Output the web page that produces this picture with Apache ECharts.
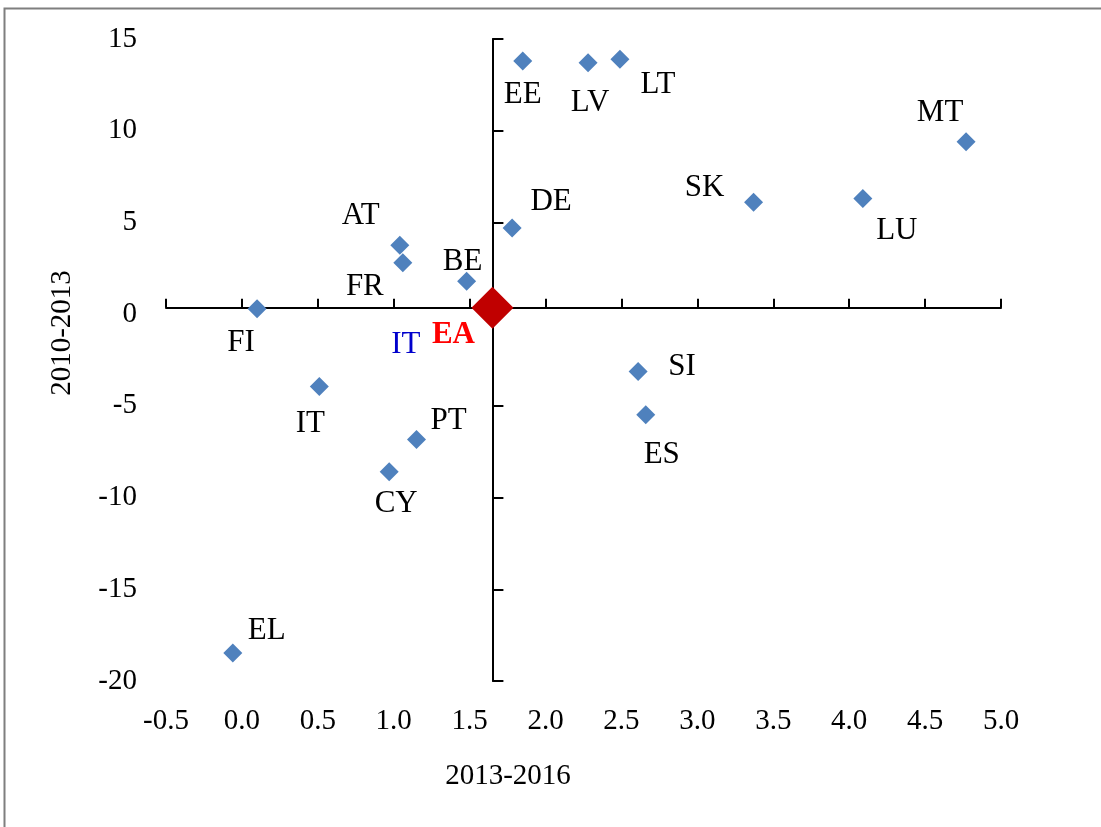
<!DOCTYPE html>
<html>
<head>
<meta charset="utf-8">
<script src="https://cdn.jsdelivr.net/npm/echarts@6/dist/echarts.min.js"></script>
<style>
  html, body { margin: 0; padding: 0; background: #fff; }
  #main { width: 1101px; height: 827px; }
</style>
</head>
<body>
<div id="main"></div>
<script>
const countries = ['EE', 'LV', 'LT', 'MT', 'SK', 'LU', 'DE', 'AT', 'FR', 'BE', 'FI', 'IT', 'PT', 'CY', 'SI', 'ES', 'EL'];
const growth1316 = [1.85, 2.28, 2.49, 4.77, 3.37, 4.09, 1.78, 1.04, 1.06, 1.48, 0.10, 0.51, 1.15, 0.97, 2.61, 2.66, -0.06];
const growth1013 = [13.8, 13.7, 13.9, 9.4, 6.1, 6.3, 4.7, 3.75, 2.8, 1.8, 0.3, -3.95, -6.84, -8.59, -3.13, -5.48, -18.48];
const euroArea = [1.65, 0.35];
const italyNote = [1.08, -1.7];

const xTicks = ['-0.5', '0.0', '0.5', '1.0', '1.5', '2.0', '2.5', '3.0', '3.5', '4.0', '4.5', '5.0'];
const yTicks = ['-20', '-15', '-10', '-5', '0', '5', '10', '15'];

// label offsets from each marker, in pixels
const labelOffsets = [[0, 34], [2, 40], [38, 26], [-26, -29], [-49, -14], [34, 32], [39, -26], [-39, -29],
  [-38, 24], [-4, -19], [-16, 34], [-9, 37], [32, -19], [7, 32], [44, -5], [16, 40], [34, -22]];

const xMin = +xTicks[0], xMax = +xTicks[xTicks.length - 1];
const yMin = +yTicks[0], yMax = +yTicks[yTicks.length - 1];
const font = "'Liberation Serif', 'Times New Roman', serif";
const lineStyle = { color: '#000', width: 2 };

const chart = echarts.init(document.getElementById('main'));

const option = {
  animation: false,
  textStyle: { fontFamily: font },
  grid: { left: 166, right: 100, top: 39, bottom: 146 },
  xAxis: [
    { // labels along the bottom
      type: 'value', min: xMin, max: xMax, interval: 0.5, position: 'bottom',
      axisLine: { show: false, onZero: false }, axisTick: { show: false }, splitLine: { show: false },
      axisLabel: { margin: 26, fontSize: 29, color: '#000', fontFamily: font, formatter: v => v.toFixed(1) }
    },
    { // hidden, shifted so its zero sits on the EA value
      type: 'value', show: false, min: xMin - euroArea[0], max: xMax - euroArea[0]
    },
    { // horizontal line through EA
      type: 'value', min: xMin, max: xMax, interval: 0.5, position: 'bottom',
      axisLine: { show: true, onZero: true, onZeroAxisIndex: 1, lineStyle: lineStyle },
      axisTick: { show: true, inside: true, length: 9, lineStyle: lineStyle },
      axisLabel: { show: false }, splitLine: { show: false }
    }
  ],
  yAxis: [
    {
      type: 'value', min: yMin, max: yMax, interval: 5, position: 'left',
      axisLine: { show: false, onZero: false }, axisTick: { show: false }, splitLine: { show: false },
      axisLabel: { margin: 29, fontSize: 29, color: '#000', fontFamily: font }
    },
    {
      type: 'value', show: false, position: 'left', min: yMin - euroArea[1], max: yMax - euroArea[1]
    },
    { // vertical line through EA
      type: 'value', min: yMin, max: yMax, interval: 5, position: 'left',
      axisLine: { show: true, onZero: true, onZeroAxisIndex: 1, lineStyle: lineStyle },
      axisTick: { show: true, inside: true, length: 11, lineStyle: lineStyle },
      axisLabel: { show: false }, splitLine: { show: false }
    }
  ],
  graphic: [
    {
      type: 'rect', silent: true, z: -1,
      shape: { x: 4.5, y: 8.5, width: 1200, height: 1000 },
      style: { fill: 'none', stroke: '#7f7f7f', lineWidth: 2 }
    },
    {
      type: 'text', x: 508, y: 776,
      style: { text: '2013-2016', font: '29px ' + font, fill: '#000', textAlign: 'center', textVerticalAlign: 'middle' }
    },
    {
      type: 'text', x: 62, y: 333, rotation: Math.PI / 2,
      style: { text: '2010-2013', font: '29px ' + font, fill: '#000', textAlign: 'center', textVerticalAlign: 'middle' }
    }
  ],
  series: [
    {
      type: 'scatter', xAxisIndex: 0, yAxisIndex: 0,
      symbol: 'diamond', symbolSize: 19,
      itemStyle: { color: '#4f81bd', opacity: 1 },
      data: countries.map((c, i) => ({
        name: c, value: [growth1316[i], growth1013[i]],
        label: { offset: labelOffsets[i] }
      })),
      label: {
        show: true, position: 'inside', formatter: '{b}', opacity: 1,
        fontSize: 31, color: '#000', fontFamily: font
      }
    },
    {
      type: 'scatter', xAxisIndex: 0, yAxisIndex: 0,
      symbol: 'diamond', symbolSize: 42, z: 3,
      itemStyle: { color: '#c00000', opacity: 1 },
      data: [{ name: 'EA', value: euroArea }],
      label: {
        show: true, position: 'inside', offset: [-39, 27], formatter: '{b}', opacity: 1,
        fontSize: 31, fontWeight: 'bold', color: '#ff0000', fontFamily: font
      }
    },
    {
      type: 'scatter', xAxisIndex: 0, yAxisIndex: 0,
      symbolSize: 0, silent: true,
      itemStyle: { opacity: 1 },
      data: [{ name: 'IT', value: italyNote }],
      label: {
        show: true, position: 'inside', formatter: '{b}', opacity: 1,
        fontSize: 31, color: '#0000cc', fontFamily: font
      }
    }
  ]
};

chart.setOption(option);
</script>
</body>
</html>
